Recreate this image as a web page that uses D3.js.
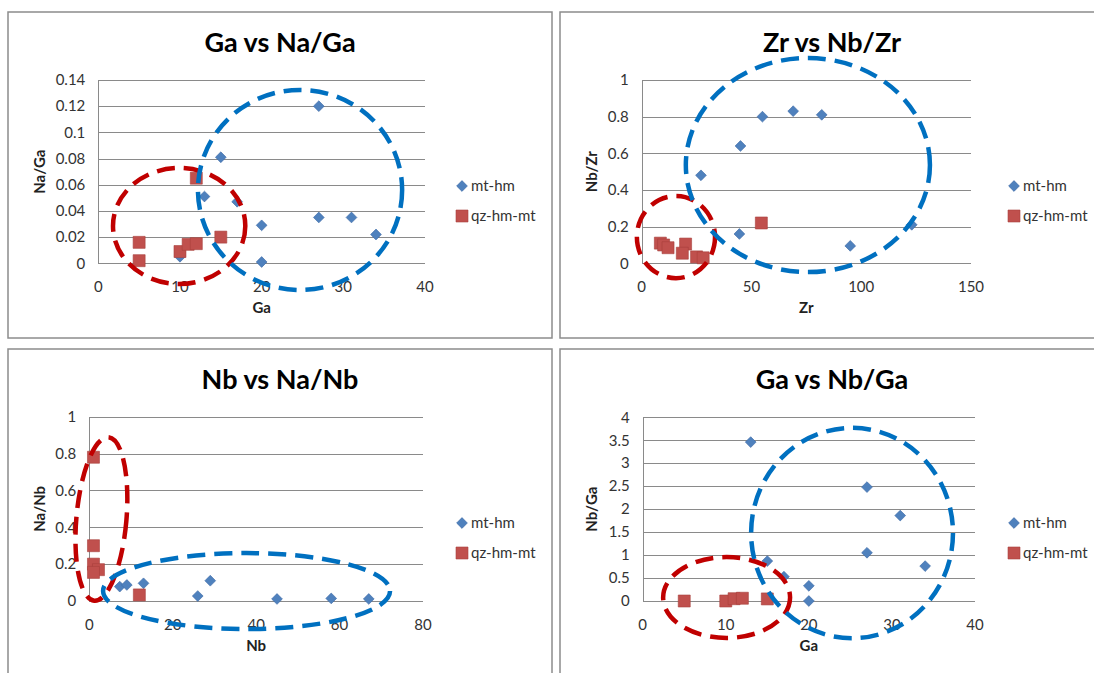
<!DOCTYPE html>
<html>
<head>
<meta charset="utf-8">
<script src="https://cdn.jsdelivr.net/npm/d3@7"></script>
<style>
body { margin: 0; background: #fff; }
svg text { font-family: Lato, "Open Sans", sans-serif; }
.chart-title { font-size: 27px; font-weight: bold; fill: #000; }
.tick-label { font-size: 15px; fill: #333; }
.axis-title { font-size: 15px; font-weight: bold; fill: #222; }
.legend-label { font-size: 15px; fill: #333; }
.grid { stroke: #8a8a8a; stroke-width: 1; shape-rendering: crispEdges; }
.frame { fill: #fff; stroke: #8c8c8c; stroke-width: 1.5; }
.ring { fill: none; stroke-width: 4.5; stroke-dasharray: 18 9; }
</style>
</head>
<body>
<svg id="chart" width="1094" height="673"></svg>
<script>
var seriesNames = ["mt-hm", "qz-hm-mt"];

// Ga vs Na/Ga  ([x, y] pairs)
var gaNaGa_mt = [[27, 0.12], [15, 0.081], [13, 0.051], [17, 0.047], [20, 0.029], [20, 0.001], [27, 0.035], [31, 0.035], [34, 0.022], [10, 0.005]];
var gaNaGa_qz = [[5, 0.016], [5, 0.002], [12, 0.065], [15, 0.02], [10, 0.009], [11, 0.0145], [12, 0.015]];
var gaNaGa_xTicks = [0, 10, 20, 30, 40];
var gaNaGa_yTicks = [0, 0.02, 0.04, 0.06, 0.08, 0.1, 0.12, 0.14];

// Zr vs Nb/Zr
var zrNbZr_mt = [[27, 0.48], [45, 0.64], [55, 0.80], [69, 0.83], [82, 0.81], [44.5, 0.16], [95, 0.095], [123, 0.21]];
var zrNbZr_qz = [[54.5, 0.22], [8.5, 0.11], [10, 0.10], [12, 0.085], [20, 0.105], [18.5, 0.055], [25, 0.035], [28, 0.03]];
var zrNbZr_xTicks = [0, 50, 100, 150];
var zrNbZr_yTicks = [0, 0.2, 0.4, 0.6, 0.8, 1];

// Nb vs Na/Nb
var nbNaNb_mt = [[7.3, 0.078], [9, 0.087], [13, 0.096], [26, 0.027], [29, 0.11], [45, 0.011], [58, 0.014], [67, 0.011]];
var nbNaNb_qz = [[1, 0.78], [1, 0.30], [1, 0.2], [2.2, 0.17], [1, 0.155], [12, 0.033]];
var nbNaNb_xTicks = [0, 20, 40, 60, 80];
var nbNaNb_yTicks = [0, 0.2, 0.4, 0.6, 0.8, 1];

// Ga vs Nb/Ga
var gaNbGa_mt = [[13, 3.46], [27, 2.48], [31, 1.86], [27, 1.05], [34, 0.76], [15, 0.87], [17, 0.53], [20, 0.33], [20, 0.0]];
var gaNbGa_qz = [[5, 0], [10, 0], [11, 0.05], [12, 0.06], [15, 0.045]];
var gaNbGa_xTicks = [0, 10, 20, 30, 40];
var gaNbGa_yTicks = [0, 0.5, 1, 1.5, 2, 2.5, 3, 3.5, 4];

// hand drawn dashed rings, in data units: [cx, cy, rx, ry, rotation]
var gaNaGa_rings = { red: [9.9, 0.0285, 8.1, 0.0443, 0], blue: [24.7, 0.056, 12.5, 0.0764, 0] };
var zrNbZr_rings = { red: [15.6, 0.143, 17.8, 0.224, 0], blue: [75.7, 0.536, 55.6, 0.584, 0] };
var nbNaNb_rings = { red: [2.9, 0.445, 6, 0.445, 5], blue: [37.7, 0.054, 34.4, 0.206, 0] };
var gaNbGa_rings = { red: [10.1, 0.076, 7.64, 0.88, 0], blue: [25.2, 1.48, 12.15, 2.29, 0] };

const frameW = 544, frameH = 326;
const ringColor = { red: "#C00000", blue: "#0070C0" };
const mtColor = "#4F81BD", qzColor = "#C0504D";

var panels = [
    { title: "Ga vs Na/Ga", xTitle: "Ga", yTitle: "Na/Ga", mt: gaNaGa_mt, qz: gaNaGa_qz, xTicks: gaNaGa_xTicks, yTicks: gaNaGa_yTicks, rings: gaNaGa_rings,
      fx: 8, fy: 12, plot: { l: 90.3, r: 417, t: 68, b: 251.3 } },
    { title: "Zr vs Nb/Zr", xTitle: "Zr", yTitle: "Nb/Zr", mt: zrNbZr_mt, qz: zrNbZr_qz, xTicks: zrNbZr_xTicks, yTicks: zrNbZr_yTicks, rings: zrNbZr_rings,
      fx: 560, fy: 12, plot: { l: 81.7, r: 411, t: 68, b: 251.3 } },
    { title: "Nb vs Na/Nb", xTitle: "Nb", yTitle: "Na/Nb", mt: nbNaNb_mt, qz: nbNaNb_qz, xTicks: nbNaNb_xTicks, yTicks: nbNaNb_yTicks, rings: nbNaNb_rings,
      fx: 8, fy: 349, plot: { l: 81.3, r: 415, t: 67.7, b: 252 } },
    { title: "Ga vs Nb/Ga", xTitle: "Ga", yTitle: "Nb/Ga", mt: gaNbGa_mt, qz: gaNbGa_qz, xTicks: gaNbGa_xTicks, yTicks: gaNbGa_yTicks, rings: gaNbGa_rings,
      fx: 560, fy: 349, plot: { l: 82.7, r: 415, t: 68.3, b: 252 } }
];

var svg = d3.select("#chart");
svg.append("rect").attr("width", 1094).attr("height", 673).attr("fill", "#fff");

var diamond = d3.symbol().type(d3.symbolSquare).size(58);
var square = d3.symbol().type(d3.symbolSquare).size(144);

panels.forEach(function(p) {
    var g = svg.append("g").attr("transform", "translate(" + p.fx + "," + p.fy + ")");

    g.append("rect").attr("class", "frame")
        .attr("x", 0).attr("y", 0).attr("width", frameW).attr("height", frameH);

    var x = d3.scaleLinear()
        .domain([p.xTicks[0], p.xTicks[p.xTicks.length - 1]])
        .range([p.plot.l, p.plot.r]);
    var y = d3.scaleLinear()
        .domain([p.yTicks[0], p.yTicks[p.yTicks.length - 1]])
        .range([p.plot.b, p.plot.t]);

    // title
    g.append("text").attr("class", "chart-title")
        .attr("x", frameW / 2).attr("y", 40)
        .attr("text-anchor", "middle")
        .text(p.title);

    // horizontal gridlines + y axis line
    g.append("g").selectAll("line")
        .data(p.yTicks)
        .enter().append("line")
        .attr("class", "grid")
        .attr("x1", x.range()[0]).attr("x2", x.range()[1])
        .attr("y1", d => Math.round(y(d)) + 0.5).attr("y2", d => Math.round(y(d)) + 0.5);
    g.append("line").attr("class", "grid")
        .attr("x1", Math.round(x.range()[0]) + 0.5).attr("x2", Math.round(x.range()[0]) + 0.5)
        .attr("y1", y.range()[1]).attr("y2", y.range()[0]);

    // tick labels
    g.append("g").selectAll("text")
        .data(p.yTicks)
        .enter().append("text")
        .attr("class", "tick-label")
        .attr("x", x.range()[0] - 13)
        .attr("y", d => y(d))
        .attr("dy", "0.35em")
        .attr("text-anchor", "end")
        .text(d => String(d));
    g.append("g").selectAll("text")
        .data(p.xTicks)
        .enter().append("text")
        .attr("class", "tick-label")
        .attr("x", d => x(d))
        .attr("y", y.range()[0] + 29)
        .attr("text-anchor", "middle")
        .text(d => String(d));

    // axis titles
    g.append("text").attr("class", "axis-title")
        .attr("text-anchor", "middle")
        .attr("transform", "translate(" + 37 + "," + (p.plot.t + p.plot.b) / 2 + ") rotate(-90)")
        .text(p.yTitle);
    g.append("text").attr("class", "axis-title")
        .attr("x", (p.plot.l + p.plot.r) / 2)
        .attr("y", p.plot.b + 50)
        .attr("text-anchor", "middle")
        .text(p.xTitle);

    // points
    g.append("g").selectAll("path")
        .data(p.mt)
        .enter().append("path")
        .attr("d", diamond)
        .attr("transform", d => "translate(" + x(d[0]) + "," + y(d[1]) + ") rotate(45)")
        .attr("fill", mtColor)
        .attr("stroke", "#3d6aa6").attr("stroke-width", 0.6);
    g.append("g").selectAll("path")
        .data(p.qz)
        .enter().append("path")
        .attr("d", square)
        .attr("transform", d => "translate(" + x(d[0]) + "," + y(d[1]) + ")")
        .attr("fill", qzColor)
        .attr("stroke", "#a8403d").attr("stroke-width", 0.6);

    // dashed rings drawn on top
    ["red", "blue"].forEach(function(k) {
        var r = p.rings[k];
        g.append("ellipse").attr("class", "ring")
            .attr("stroke", ringColor[k])
            .attr("cx", 0).attr("cy", 0)
            .attr("rx", Math.abs(x(r[0] + r[2]) - x(r[0])))
            .attr("ry", Math.abs(y(r[1] + r[3]) - y(r[1])))
            .attr("transform", "translate(" + x(r[0]) + "," + y(r[1]) + ") rotate(" + r[4] + ")");
    });

    // legend
    var lg = g.append("g").attr("transform", "translate(454,174)");
    lg.append("path").attr("d", diamond)
        .attr("transform", "translate(0,0) rotate(45)")
        .attr("fill", mtColor).attr("stroke", "#3d6aa6").attr("stroke-width", 0.6);
    lg.append("path").attr("d", square)
        .attr("transform", "translate(0,30)")
        .attr("fill", qzColor).attr("stroke", "#a8403d").attr("stroke-width", 0.6);
    lg.selectAll("text")
        .data(seriesNames)
        .enter().append("text")
        .attr("class", "legend-label")
        .attr("x", 9)
        .attr("y", (d, i) => i * 30)
        .attr("dy", "0.35em")
        .text(d => d);
});
</script>
</body>
</html>
